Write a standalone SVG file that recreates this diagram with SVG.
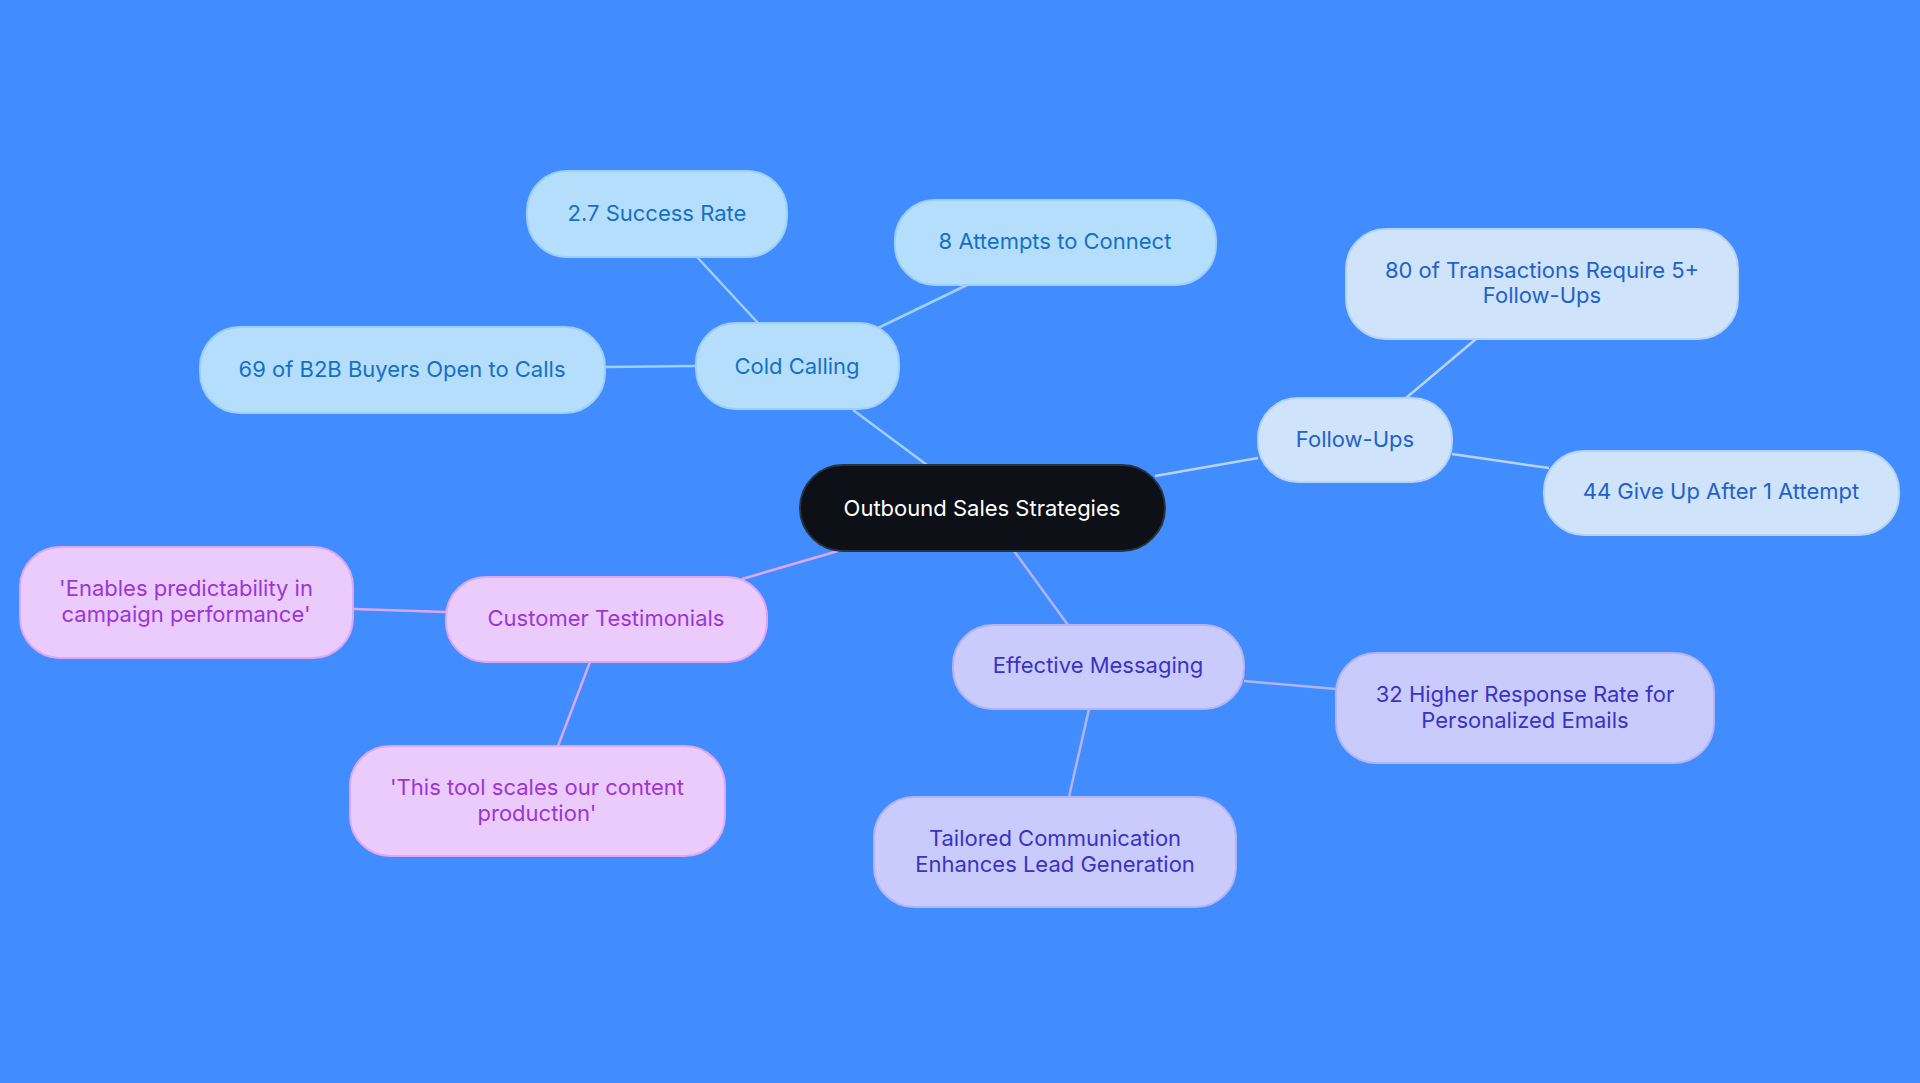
<svg xmlns="http://www.w3.org/2000/svg" width="1920" height="1083" viewBox="0 0 1920 1083">
<style>
text{font-family:Inter,"Noto Sans",sans-serif;font-size:22px;text-anchor:middle;dominant-baseline:central}
.b rect{fill:#b5defd;stroke:#9dcff7;stroke-width:2}.b text{fill:#1570c4}
.f rect{fill:#cfe3fb;stroke:#b6d2f7;stroke-width:2}.f text{fill:#2262c8}
.p rect{fill:#cacbfd;stroke:#b3b4f5;stroke-width:2}.p text{fill:#3a32c4}
.k rect{fill:#ebcafc;stroke:#dca8f3;stroke-width:2}.k text{fill:#9b36d4}
#edges line{stroke-width:2.5;fill:none}
</style>
<rect width="1920" height="1083" fill="#418cff"/>
<g id="edges">
<line x1="927" y1="465" x2="853" y2="410" stroke="#9fd0f8"/>
<line x1="758" y1="323" x2="697" y2="257" stroke="#9fd0f8"/>
<line x1="878" y1="328" x2="967" y2="285" stroke="#9fd0f8"/>
<line x1="696" y1="366" x2="605" y2="367" stroke="#9fd0f8"/>
<line x1="1155" y1="476" x2="1258" y2="458" stroke="#b8d3f7"/>
<line x1="1406" y1="398" x2="1476" y2="339" stroke="#b8d3f7"/>
<line x1="1452" y1="454" x2="1549" y2="468" stroke="#b8d3f7"/>
<line x1="838" y1="551" x2="742" y2="579" stroke="#dca8f3"/>
<line x1="446" y1="612" x2="353" y2="609" stroke="#dca8f3"/>
<line x1="590" y1="662" x2="558" y2="746" stroke="#dca8f3"/>
<line x1="1014" y1="551" x2="1068" y2="625" stroke="#b3b4f5"/>
<line x1="1244" y1="681" x2="1336" y2="689" stroke="#b3b4f5"/>
<line x1="1089" y1="709" x2="1069" y2="797" stroke="#b3b4f5"/>
</g>
<g id="center"><rect x="800" y="465" width="365" height="86" rx="43" fill="#0d1117" stroke="#2a3340" stroke-width="2"/><text x="982" y="508" fill="#fff">Outbound Sales Strategies</text></g>
<g id="cold" class="b"><rect x="696" y="323" width="203" height="86" rx="40"/><text x="797" y="366">Cold Calling</text></g>
<g id="success" class="b"><rect x="527" y="171" width="260" height="86" rx="40"/><text x="657" y="213">2.7 Success Rate</text></g>
<g id="attempts" class="b"><rect x="895" y="200" width="321" height="85" rx="40"/><text x="1055" y="241">8 Attempts to Connect</text></g>
<g id="b2b" class="b"><rect x="200" y="327" width="405" height="86" rx="40"/><text x="402" y="369">69 of B2B Buyers Open to Calls</text></g>
<g id="follow" class="f"><rect x="1258" y="398" width="194" height="84" rx="40"/><text x="1355" y="439">Follow-Ups</text></g>
<g id="trans" class="f"><rect x="1346" y="229" width="392" height="110" rx="40"/><text x="1542" y="270">80 of Transactions Require 5+</text><text x="1542" y="295">Follow-Ups</text></g>
<g id="giveup" class="f"><rect x="1544" y="451" width="355" height="84" rx="40"/><text x="1721" y="491">44 Give Up After 1 Attempt</text></g>
<g id="cust" class="k"><rect x="446" y="577" width="321" height="85" rx="40"/><text x="606" y="618">Customer Testimonials</text></g>
<g id="enables" class="k"><rect x="20" y="547" width="333" height="111" rx="40"/><text x="186" y="588">'Enables predictability in</text><text x="186" y="614">campaign performance'</text></g>
<g id="thistool" class="k"><rect x="350" y="746" width="375" height="110" rx="40"/><text x="537" y="787">'This tool scales our content</text><text x="537" y="813">production'</text></g>
<g id="eff" class="p"><rect x="953" y="625" width="291" height="84" rx="40"/><text x="1098" y="665">Effective Messaging</text></g>
<g id="higher" class="p"><rect x="1336" y="653" width="378" height="110" rx="40"/><text x="1525" y="694">32 Higher Response Rate for</text><text x="1525" y="720">Personalized Emails</text></g>
<g id="tailored" class="p"><rect x="874" y="797" width="362" height="110" rx="40"/><text x="1055" y="838">Tailored Communication</text><text x="1055" y="864">Enhances Lead Generation</text></g>
</svg>
